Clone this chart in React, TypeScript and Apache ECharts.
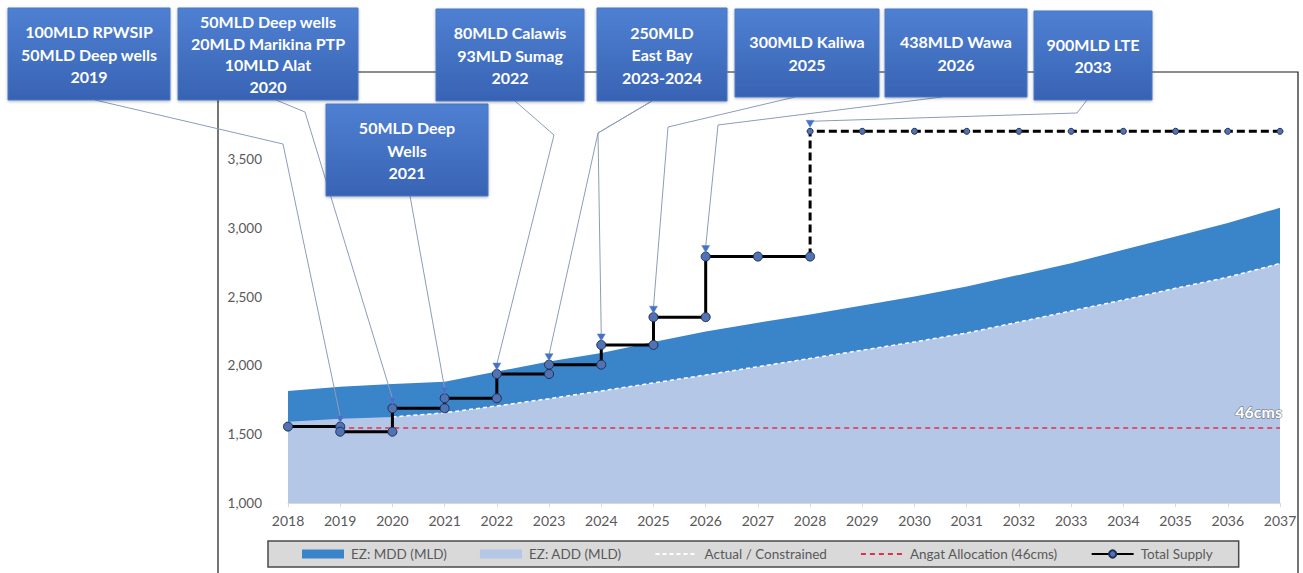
import React, { useEffect, useRef } from "react";
import * as echarts from "echarts";

// ---- data ----
const YEARS = [2018, 2019, 2020, 2021, 2022, 2023, 2024, 2025, 2026, 2027, 2028, 2029, 2030, 2031, 2032, 2033, 2034, 2035, 2036, 2037];
const MDD = [1814, 1845, 1865, 1880, 1955, 2027, 2090, 2170, 2245, 2310, 2370, 2435, 2500, 2572, 2657, 2742, 2839, 2936, 3033, 3145];
const ADD = [1590, 1612, 1625, 1655, 1705, 1758, 1814, 1872, 1930, 1990, 2050, 2110, 2170, 2235, 2315, 2395, 2475, 2560, 2640, 2740];
const ACTUAL_YEARS = [2020, 2021, 2022, 2023, 2024, 2025, 2026, 2027, 2028, 2029, 2030, 2031, 2032, 2033, 2034, 2035, 2036, 2037];
const ACTUAL = [1625, 1655, 1705, 1758, 1814, 1872, 1930, 1990, 2050, 2110, 2170, 2235, 2315, 2395, 2475, 2560, 2640, 2740];
const ANGAT_YEARS = [2019, 2037];
const ANGAT = [1545, 1545];
const SUPPLY_YEARS = [2018, 2019, 2020, 2021, 2022, 2023, 2024, 2025, 2026, 2027, 2028];
const SUPPLY = [1555, 1518, 1688, 1761, 1937, 2005, 2148, 2350, 2790, 2790, 2790];
const PROJ_YEARS = [2028, 2029, 2030, 2031, 2032, 2033, 2034, 2035, 2036, 2037];
const PROJ = [3700, 3700, 3700, 3700, 3700, 3700, 3700, 3700, 3700, 3700];
const Y_TICKS = { min: 1000, max: 4000, step: 500 };

const NAMES = {
  mdd: "EZ: MDD (MLD)",
  add: "EZ: ADD (MLD)",
  actual: "Actual / Constrained",
  angat: "Angat Allocation (46cms)",
  supply: "Total Supply",
};
const ANGAT_LABEL = "46cms";

// annotation boxes (layout) and what they point at (data)
const ANNOTATIONS = [
  { text: "100MLD RPWSIP\n50MLD Deep wells\n2019", box: [8, 8, 162, 92], lh: 22.5, leaders: [{ from: [95, 100], via: [283, 144], year: 2019, value: SUPPLY[0] }] },
  { text: "50MLD Deep wells\n20MLD Marikina PTP\n10MLD Alat\n2020", box: [178, 8, 180, 92], lh: 21.5, leaders: [{ from: [276, 100], via: [305, 112], year: 2020, value: SUPPLY[2] }] },
  { text: "50MLD Deep\nWells\n2021", box: [326, 104, 162, 92], lh: 22.5, leaders: [{ from: [410, 196], via: null, year: 2021, value: SUPPLY[3] }] },
  { text: "80MLD Calawis\n93MLD Sumag\n2022", box: [436, 9, 148, 92], lh: 22.5, leaders: [{ from: [515, 101], via: [554, 135], year: 2022, value: SUPPLY[4] }] },
  { text: "250MLD\nEast Bay\n2023-2024", box: [597, 8, 130, 93], lh: 22.5, leaders: [
    { from: [652, 101], via: [598, 133], year: 2023, value: SUPPLY[5] },
    { from: [652, 101], via: [598, 133], year: 2024, value: SUPPLY[6] },
  ] },
  { text: "300MLD Kaliwa\n2025", box: [735, 9, 144, 88], lh: 22.5, leaders: [{ from: [795, 97], via: [668, 127], year: 2025, value: SUPPLY[7] }] },
  { text: "438MLD Wawa\n2026", box: [885, 9, 142, 88], lh: 22.5, leaders: [{ from: [942, 97], via: [718, 125], year: 2026, value: SUPPLY[8] }] },
  { text: "900MLD LTE\n2033", box: [1034, 11, 118, 89], lh: 22.5, leaders: [{ from: [1087, 100], via: [1077, 113], year: 2028, value: PROJ[0] }] },
];

const FONT = "Lato, 'Open Sans', sans-serif";

function buildStepData() {
  const pts: any[] = [[SUPPLY_YEARS[0], SUPPLY[0]]];
  for (let i = 1; i < SUPPLY_YEARS.length; i++) {
    pts.push([SUPPLY_YEARS[i], SUPPLY[i - 1]]);
    if (SUPPLY[i] !== SUPPLY[i - 1]) pts.push([SUPPLY_YEARS[i], SUPPLY[i]]);
  }
  return pts;
}

const HIDDEN_SYMBOL = { color: "rgba(0,0,0,0)", borderWidth: 0, borderColor: "rgba(0,0,0,0)" };

export default function App() {
  const ref = useRef<HTMLDivElement>(null);
  useEffect(() => {
    document.body.style.margin = "0";
    if (!ref.current) return;
    const chart = echarts.init(ref.current, undefined, { renderer: "svg" });

    const projData: any[] = [{ value: [SUPPLY_YEARS[SUPPLY_YEARS.length - 1], SUPPLY[SUPPLY.length - 1]], symbol: "none" }];
    PROJ_YEARS.forEach((y, i) => projData.push([y, PROJ[i]]));

    chart.setOption({
      animation: false,
      textStyle: { fontFamily: FONT },
      grid: { left: 288, right: 23, top: 90, bottom: 70, containLabel: false, outerBoundsMode: "none" },
      xAxis: {
        type: "value",
        min: YEARS[0],
        max: YEARS[YEARS.length - 1],
        interval: 1,
        axisLabel: { formatter: (v: number) => String(v), color: "#595959", fontSize: 14, margin: 10, fontFamily: FONT },
        axisLine: { lineStyle: { color: "#d9d9d9", width: 1 } },
        axisTick: { show: true, length: 4, lineStyle: { color: "#d9d9d9" } },
        splitLine: { show: false },
      },
      yAxis: {
        type: "value",
        min: Y_TICKS.min,
        max: Y_TICKS.max,
        interval: Y_TICKS.step,
        axisLabel: {
          formatter: (v: number) => v.toLocaleString("en-US"),
          color: "#595959",
          fontSize: 13.5,
          margin: 26,
          fontFamily: FONT,
          showMaxLabel: false,
        },
        axisLine: { show: false },
        axisTick: { show: false },
        splitLine: { show: false },
      },
      legend: {
        left: 268,
        top: 541,
        orient: "horizontal",
        backgroundColor: "#d9d9d9",
        borderColor: "#4a4a4a",
        borderWidth: 1.5,
        borderRadius: 0,
        padding: [6, 26, 6, 34],
        itemGap: 33,
        itemWidth: 42,
        itemHeight: 9,
        textStyle: { color: "#595959", fontSize: 13.5, fontFamily: FONT, padding: [0, 0, 0, 2] },
        data: [
          { name: NAMES.mdd, icon: "rect" },
          { name: NAMES.add, icon: "rect" },
          { name: NAMES.actual, itemStyle: HIDDEN_SYMBOL },
          { name: NAMES.angat, itemStyle: HIDDEN_SYMBOL },
          { name: NAMES.supply },
        ],
      },
      series: [
        {
          name: NAMES.mdd,
          type: "line",
          data: YEARS.map((y, i) => [y, MDD[i]]),
          symbol: "none",
          lineStyle: { width: 0, color: "#3a84ca" },
          itemStyle: { color: "#3a84ca" },
          areaStyle: { color: "#3a84ca", opacity: 1, origin: "start" },
          z: 1,
        },
        {
          name: NAMES.add,
          type: "line",
          data: YEARS.map((y, i) => [y, ADD[i]]),
          symbol: "none",
          lineStyle: { width: 0, color: "#b4c7e7" },
          itemStyle: { color: "#b4c7e7" },
          areaStyle: { color: "#b4c7e7", opacity: 1, origin: "start" },
          z: 2,
        },
        {
          name: NAMES.actual,
          type: "line",
          data: ACTUAL_YEARS.map((y, i) => [y, ACTUAL[i]]),
          symbol: "none",
          itemStyle: { color: "#ffffff" },
          lineStyle: { color: "#ffffff", width: 1.5, type: [4, 3] },
          z: 3,
        },
        {
          name: NAMES.angat,
          type: "line",
          data: ANGAT_YEARS.map((y, i) => [y, ANGAT[i]]),
          symbol: "none",
          itemStyle: { color: "#e0304e" },
          lineStyle: { color: "#e0304e", width: 1.5, type: [5, 4] },
          z: 4,
        },
        {
          name: NAMES.supply,
          type: "line",
          data: buildStepData(),
          symbol: "circle",
          symbolSize: 9,
          showAllSymbol: true,
          lineStyle: { color: "#000000", width: 3 },
          itemStyle: { color: "#5273b3", borderColor: "#1f2f55", borderWidth: 1 },
          z: 5,
        },
        {
          name: "Total Supply (projected)",
          type: "line",
          data: projData,
          symbol: "circle",
          symbolSize: 6,
          showAllSymbol: true,
          lineStyle: { color: "#000000", width: 3, type: [8, 4] },
          itemStyle: { color: "#5273b3", borderColor: "#1f2f55", borderWidth: 1 },
          z: 5,
        },
      ],
    });

    // annotations: boxes in layout space, leader tips at data points via the chart's scales
    const graphics: any[] = [
      {
        type: "rect",
        shape: { x: 218, y: 72, width: 1080, height: 520 },
        style: { fill: "none", stroke: "#1a1a1a", lineWidth: 1.2 },
        z: 0,
        silent: true,
      },
    ];
    const angatEnd = chart.convertToPixel({ gridIndex: 0 }, [ANGAT_YEARS[ANGAT_YEARS.length - 1], ANGAT[ANGAT.length - 1]]) as number[];
    graphics.push({
      type: "text",
      x: angatEnd[0] + 2,
      y: angatEnd[1] - 16,
      style: {
        text: ANGAT_LABEL,
        fill: "#ffffff",
        fontSize: 16,
        fontWeight: "bold",
        fontFamily: FONT,
        align: "right",
        verticalAlign: "middle",
        stroke: "rgba(90,90,90,0.6)",
        lineWidth: 1.5,
      },
      z: 10,
      silent: true,
    });
    ANNOTATIONS.forEach((a) => {
      a.leaders.forEach((l) => {
        const p = chart.convertToPixel({ gridIndex: 0 }, [l.year, l.value]) as number[];
        const tipY = p[1] - 4;
        const pts: number[][] = [l.from];
        if (l.via) pts.push(l.via);
        pts.push([p[0], tipY - 6]);
        graphics.push({
          type: "polyline",
          shape: { points: pts },
          style: { stroke: "#8c9cba", lineWidth: 1, fill: "none" },
          z: 20,
          silent: true,
        });
        graphics.push({
          type: "polygon",
          shape: { points: [[p[0] - 4, tipY - 7], [p[0] + 4, tipY - 7], [p[0], tipY]] },
          style: { fill: "#4472c4", stroke: "#5b86d4", lineWidth: 0.5 },
          z: 21,
          silent: true,
        });
      });
      const [x, y, w, h] = a.box;
      graphics.push({
        type: "rect",
        shape: { x, y, width: w, height: h },
        style: {
          fill: new echarts.graphic.LinearGradient(0, 0, 0, 1, [
            { offset: 0, color: "#4f80d2" },
            { offset: 1, color: "#3863b4" },
          ]),
          stroke: "#4a78c6",
          lineWidth: 1,
          shadowBlur: 3,
          shadowOffsetY: 1,
          shadowColor: "rgba(0,0,0,0.3)",
        },
        z: 30,
        silent: true,
      });
      graphics.push({
        type: "text",
        x: x + w / 2,
        y: y + h / 2,
        style: {
          text: a.text,
          fill: "#ffffff",
          fontSize: 16,
          fontWeight: "bold",
          fontFamily: FONT,
          lineHeight: a.lh,
          align: "center",
          verticalAlign: "middle",
        },
        z: 31,
        silent: true,
      });
    });
    chart.setOption({ graphic: graphics });

    return () => chart.dispose();
  }, []);
  return <div ref={ref} style={{ width: 1303, height: 573 }} />;
}
